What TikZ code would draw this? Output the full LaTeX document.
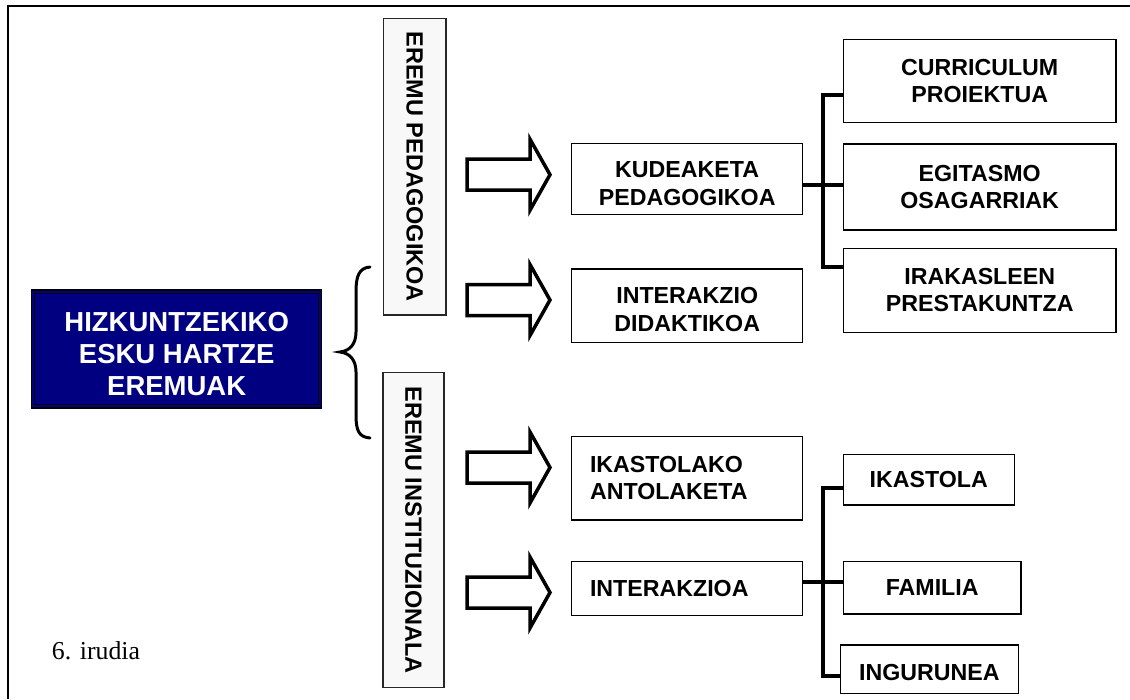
\documentclass[tikz,border=0pt]{standalone}
\usepackage{fontspec}
\setmainfont{Liberation Serif}
\setsansfont{Liberation Sans}
\definecolor{navyfill}{RGB}{0,0,128}
\definecolor{sidefill}{RGB}{248,248,248}
% invisible rule that lowers a multi-line label inside its box
\newcommand\droprule[1]{\rule{0pt}{#1}}
\begin{document}
\begin{tikzpicture}[x=1pt,y=-1pt,
  box/.style={draw=black,line width=1.3pt,fill=white,inner sep=0pt,align=center,
    font=\sffamily\bfseries\fontsize{23.2}{27.3}\selectfont},
  leftbox/.style={box,align=left,inner xsep=18.3pt,text width=194.4pt},
  sidebox/.style={draw=black!85,line width=1.2pt,fill=sidefill,inner sep=0pt,rotate=-90,
    font=\sffamily\bfseries\fontsize{23.5}{27}\selectfont},
  titlebox/.style={draw=black,line width=1.5pt,fill=navyfill,inner sep=0pt,align=center,
    text=white,font=\sffamily\bfseries\fontsize{27.5}{31.7}\selectfont},
  conn/.style={line width=4pt,line join=miter},
  fatarrow/.style={draw=black,line width=3.5pt,fill=white,line join=miter},
  bracestyle/.style={line width=3pt,line cap=round},
]
\useasboundingbox (0,0) rectangle (1130,699);
% outer frame (open to the right and bottom)
\draw[line width=1.5pt] (8,699) -- (8,6) -- (1130,6);

% title box with its inner rule
\node[titlebox,minimum width=290pt,minimum height=117.7pt] (title) at (176.7,348.9)
  {\droprule{29.7pt}HIZKUNTZEKIKO\\ESKU HARTZE\\EREMUAK};
\draw[line width=1pt] ([shift={(4pt,-4pt)}]title.north west) rectangle ([shift={(-4pt,4pt)}]title.south east);

% curly brace
\draw[bracestyle] (370,267) .. controls (359,268) and (356,276) .. (356,292)
  -- (356,332) .. controls (356,345) and (349,351) .. (340,352)
  .. controls (349,353) and (356,359) .. (356,372)
  -- (356,415) .. controls (356,431) and (359,437) .. (370,438);

% vertical field labels
\node[sidebox,minimum width=296.7pt,minimum height=62.7pt] (ped) at (414.7,166.7) {EREMU PEDAGOGIKOA};
\node[sidebox,minimum width=315pt,minimum height=61pt] (ins) at (413.5,530.2) {EREMU INSTITUZIONALA};

% block arrows
\foreach \c in {174.7,300,467.5,592.5}
  \draw[fatarrow] (467,\c-15.5) -- (530,\c-15.5) -- (530,\c-35.5) -- (550,\c)
    -- (530,\c+35.5) -- (530,\c+15.5) -- (467,\c+15.5) -- cycle;

% middle column
\node[box,minimum width=231pt,minimum height=71pt] (kud) at (687.2,178.8) {\droprule{25.6pt}KUDEAKETA\\PEDAGOGIKOA};
\node[box,minimum width=231pt,minimum height=73.3pt] (did) at (687.2,305.7) {\droprule{23.6pt}INTERAKZIO\\DIDAKTIKOA};
\node[leftbox,minimum height=83.3pt] (ant) at (687.2,478.3) {IKASTOLAKO\\ANTOLAKETA};
\node[leftbox,minimum height=54pt] (int) at (687.2,588.7) {INTERAKZIOA};

% right column, upper group
\node[box,minimum width=272.7pt,minimum height=83.4pt] (cur) at (979.7,81) {CURRICULUM\\PROIEKTUA};
\node[box,minimum width=272.7pt,minimum height=86pt] (ego) at (979.7,187) {EGITASMO\\OSAGARRIAK};
\node[box,minimum width=272.7pt,minimum height=84pt] (ira) at (979.7,290.3) {IRAKASLEEN\\PRESTAKUNTZA};

% right column, lower group
\node[box,minimum width=171pt,minimum height=50.7pt] (ikl) at (928.8,479.7) {IKASTOLA};
\node[box,minimum width=177.7pt,minimum height=52.3pt] (fam) at (932.2,587.9) {FAMILIA};
\node[box,minimum width=178pt,minimum height=48.3pt] (ing) at (929.3,669.2) {\droprule{23.5pt}INGURUNEA};

% branching connectors
\coordinate (j1) at (822.7,185.3);
\coordinate (t1) at (822.7,95);
\coordinate (u1) at (822.7,267.3);
\draw[conn] (j1 -| kud.east) -- (j1 -| ego.west);
\draw[conn] (t1 -| cur.west) -- (t1) -- (u1) -- (u1 -| ira.west);

\coordinate (j2) at (822.7,582.3);
\coordinate (t2) at (822.7,488.3);
\coordinate (u2) at (822.7,675.7);
\draw[conn] (j2 -| int.east) -- (j2 -| fam.west);
\draw[conn] (t2 -| ikl.west) -- (t2) -- (u2) -- (u2 -| ing.west);

% caption
\node[anchor=base west,inner sep=0pt,font=\fontsize{25.8}{30}\selectfont] (cap) at (51.7,659.3) {6. irudia};
\end{tikzpicture}
\end{document}
